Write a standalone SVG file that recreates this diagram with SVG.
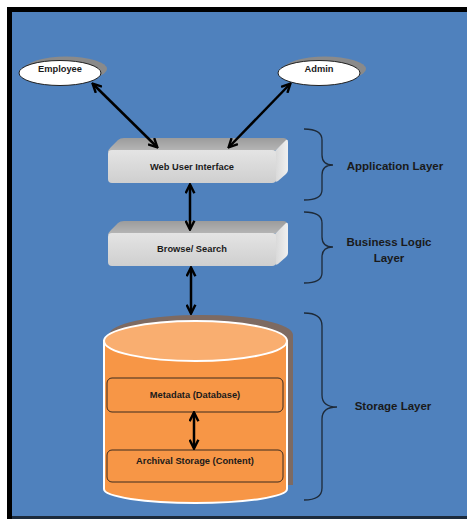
<svg xmlns="http://www.w3.org/2000/svg" width="467" height="519" viewBox="0 0 467 519">
<defs>
<marker id="ah" viewBox="0 0 10 10" refX="8.5" refY="5" markerWidth="4.4" markerHeight="4.4" orient="auto-start-reverse" markerUnits="strokeWidth">
<path d="M1,1 L9,5 L1,9" fill="none" stroke="#000" stroke-width="2.2" stroke-linejoin="miter"/>
</marker>
<linearGradient id="front" x1="0" y1="0" x2="0" y2="1">
<stop offset="0" stop-color="#E4E4E4"/><stop offset="1" stop-color="#CFCFCF"/>
</linearGradient>
<linearGradient id="top" x1="0" y1="0" x2="0" y2="1">
<stop offset="0" stop-color="#9C9C9C"/><stop offset="1" stop-color="#B8B8B8"/>
</linearGradient>
<linearGradient id="side" x1="0" y1="0" x2="1" y2="0">
<stop offset="0" stop-color="#D8D8D8"/><stop offset="1" stop-color="#F0F0F0"/>
</linearGradient>
<style>
.lbl{font-family:"Liberation Sans",Arial,sans-serif;font-weight:bold;fill:#1a1a1a;text-anchor:middle;dominant-baseline:central}
.small{font-size:9.3px}
.big{font-size:11.5px}
.conn{stroke:#000;stroke-width:2.5;fill:none;marker-start:url(#ah);marker-end:url(#ah)}
.brace{fill:none;stroke:#1E2A38;stroke-width:1.3}
.ell{fill:#fff;stroke:#222;stroke-width:1}
.shadow{fill:#8A8A8A}
.box{fill:url(#front)}
.boxtop{fill:url(#top)}
.boxside{fill:url(#side)}
.inner{fill:#F79646;stroke:#3B2A1E;stroke-width:1}
</style>
</defs>
<rect x="0" y="0" width="467" height="519" fill="#fff"/>
<rect x="7" y="7" width="460" height="512" fill="#000"/>
<rect x="12" y="12" width="455" height="504" fill="#4F81BD"/>
<rect x="12" y="516" width="455" height="3" fill="#1C2B3C"/>

<g id="employee">
<ellipse class="shadow" cx="66" cy="69" rx="41" ry="12.5"/>
<ellipse class="ell" cx="60" cy="73" rx="41" ry="12.5"/>
<text class="lbl small" x="60" y="69">Employee</text>
</g>
<g id="admin">
<ellipse class="shadow" cx="325" cy="69" rx="41" ry="12.5"/>
<ellipse class="ell" cx="319" cy="73" rx="41" ry="12.5"/>
<text class="lbl small" x="319" y="69">Admin</text>
</g>

<g id="web-user-interface">
<path class="boxtop" d="M108,152 Q108,150 111,147 L118,140 Q120,138 124,138 L283,138 Q287,138 287,141 L276,150 Q275,151 272,151 Z"/>
<path class="boxside" d="M275,151 L286,140 Q288,139 288,142 L288,170 Q288,172 286,174 L278,181 Q275,183 275,180 Z"/>
<rect class="box" x="108" y="150" width="168" height="33" rx="4"/>
<text class="lbl small" x="192" y="167">Web User Interface</text>
</g>

<g id="browse-search">
<path class="boxtop" d="M108,235 Q108,233 111,230 L118,223 Q120,221 124,221 L283,221 Q287,221 287,224 L276,233 Q275,234 272,234 Z"/>
<path class="boxside" d="M275,234 L286,223 Q288,222 288,225 L288,253 Q288,255 286,257 L278,264 Q275,266 275,263 Z"/>
<rect class="box" x="108" y="233" width="168" height="33" rx="4"/>
<text class="lbl small" x="192" y="249">Browse/ Search</text>
</g>

<g id="storage">
<path d="M109,335 A91.5,20 0 0 1 293,335 L293,485 L287,485 L287,341 Z" fill="#7D6A62"/>
<path d="M104,341 L104,489 A91.5,14 0 0 0 287,489 L287,341 Z" fill="#F79646" stroke="#fff" stroke-width="2"/>
<ellipse cx="195.5" cy="341" rx="91.5" ry="20" fill="#F9AE70" stroke="#fff" stroke-width="2"/>
</g>
<g id="metadata">
<rect class="inner" x="107" y="378" width="176" height="34" rx="5"/>
<text class="lbl small" x="195" y="395">Metadata (Database)</text>
</g>
<g id="archival">
<rect class="inner" x="107" y="450" width="176" height="32" rx="5"/>
<text class="lbl small" x="195" y="461">Archival Storage (Content)</text>
</g>

<g id="connectors">
<line class="conn" x1="93" y1="84" x2="157" y2="147"/>
<line class="conn" x1="290" y1="84" x2="229" y2="147"/>
<line class="conn" x1="190" y1="185" x2="190" y2="229"/>
<line class="conn" x1="191" y1="268" x2="191" y2="313"/>
<line class="conn" x1="194" y1="413" x2="194" y2="448"/>
</g>

<g id="application-layer">
<path class="brace" d="M304,129 Q322,129 322,140 L322,155 Q322,165 333,165 Q322,165 322,175 L322,190 Q322,200 304,200"/>
<text class="lbl big" x="395" y="166">Application Layer</text>
</g>
<g id="business-logic-layer">
<path class="brace" d="M304,212 Q322,212 322,223 L322,237 Q322,247 333,247 Q322,247 322,257 L322,273 Q322,283 304,283"/>
<text class="lbl big" x="389" y="242">Business Logic</text>
<text class="lbl big" x="389" y="258">Layer</text>
</g>
<g id="storage-layer">
<path class="brace" d="M304,313 Q322,313 322,326 L322,395 Q322,407 337,407 Q322,407 322,419 L322,488 Q322,500 304,500"/>
<text class="lbl big" x="393" y="406">Storage Layer</text>
</g>
</svg>
